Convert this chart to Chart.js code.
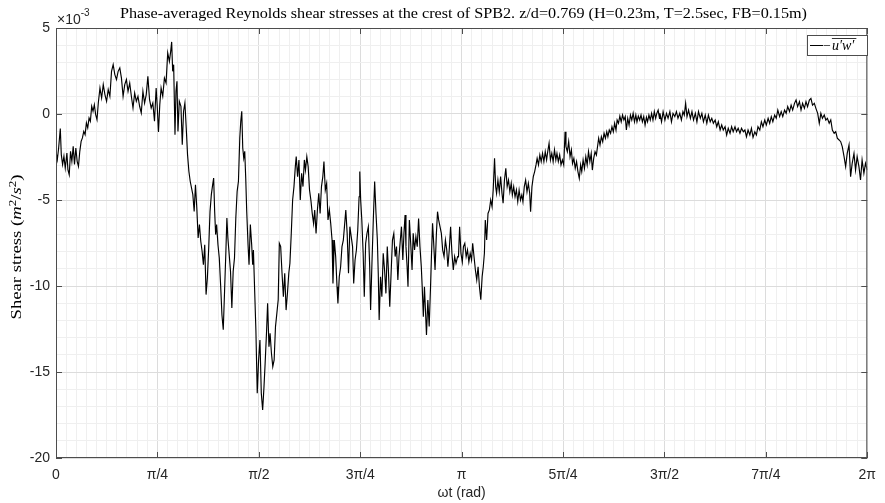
<!DOCTYPE html>
<html><head><meta charset="utf-8">
<script src="https://cdn.jsdelivr.net/npm/chart.js@4/dist/chart.umd.min.js"></script>
<style>html,body{margin:0;padding:0;background:#fff;}canvas{display:block;}</style>
</head><body>
<canvas id="c" width="885" height="503"></canvas>
<script>
// phase in degrees of the wave cycle (360 deg = 2*pi rad)
const phaseDeg = [
0,0.59,1.17,1.91,2.35,2.93,3.52,4.11,4.84,5.28,5.87,6.45,7.04,7.63,8.21,8.8,9.39,9.97,10.56,11.15,11.73,12.32,12.91,13.49,14.08,14.67,15.25,15.84,16.43,17.01,17.6,18.19,18.77,19.51,20.24,20.97,21.71,22.44,23.17,23.91,24.64,25.37,26.11,26.84,27.57,28.31,29.04,29.77,30.51,31.24,31.97,32.71,33.44,34.17,34.91,35.64,36.37,37.11,37.84,38.57,39.31,40.04,40.77,41.51,42.24,42.97,43.71,44.44,44.88,45.47,46.05,46.64,47.37,48.11,48.84,49.57,50.31,50.89,51.33,51.77,52.21,52.8,53.24,53.68,54.12,54.71,55.44,56.03,56.61,57.2,57.79,58.37,58.96,59.55,60.13,60.72,61.31,61.89,62.48,63.07,63.65,64.24,64.83,65.41,66,66.59,67.17,67.76,68.35,68.93,69.52,69.96,70.4,70.84,71.28,71.87,72.46,73.04,73.63,74.22,74.8,75.39,75.83,76.27,76.86,77.44,78.03,78.62,79.2,79.79,80.38,80.96,81.55,81.99,82.43,82.87,83.31,83.75,84.19,84.63,85.22,85.66,86.24,86.83,87.27,
87.6,88.1,88.7,89.3,89.9,90.5,91.1,91.7,92.3,92.8,93.4,93.9,94.5,95.0,95.6,96.2,96.8,97.4,98.0,98.6,99.1,99.7,100.3,100.9,101.5,102.1,102.7,103.3,103.8,104.4,105.0,105.6,106.2,106.6,107.2,107.8,108.4,109.0,109.6,110.2,110.7,111.3,111.9,112.5,113.1,113.7,114.3,114.8,115.4,116.0,116.6,117.2,117.8,118.4,118.9,119.5,120.1,120.7,121.3,121.9,122.5,122.9,123.5,124.1,124.7,125.1,125.7,126.3,126.9,127.5,128.0,128.6,129.2,129.8,130.4,131.0,131.6,132.1,132.7,133.3,133.9,134.5,134.8,135.2,135.7,136.3,136.8,137.4,138.0,138.6,139.2,139.6,140.2,140.8,141.4,142.0,142.6,143.0,143.4,144.0,144.6,145.2,145.8,146.4,147.0,147.5,148.1,148.7,149.3,149.9,150.5,151.1,151.7,152.2,152.8,153.3,153.9,154.4,154.9,155.3,155.8,156.2,156.8,157.4,158.0,158.5,159.1,159.7,160.3,160.9,161.5,162.1,162.5,163.0,163.5,164.0,164.4,165.0,165.6,166.2,166.6,167.1,167.6,168.2,168.8,169.3,169.8,170.4,171.0,171.6,172.2,172.8,173.4,173.9,174.5,175.1,175.7,176.3,176.9,177.5,178.2,
178.6,179.1,179.7,180.3,180.8,181.4,182.0,182.6,183.2,183.8,184.4,184.9,185.5,186.1,186.7,187.3,187.9,188.5,189.1,189.6,190.1,190.5,191.1,191.7,192.3,192.9,193.5,194.0,194.6,195.1,195.5,196.1,196.7,197.3,197.9,198.4,199.0,199.6,200.2,200.8,201.4,202.0,202.5,203.1,203.7,204.3,204.9,205.5,206.1,206.7,207.2,207.8,208.4,209.0,209.6,210.2,210.6,211.2,211.8,212.4,213.0,213.5,214.1,214.7,215.3,215.9,216.5,217.1,217.7,218.2,218.8,219.4,220.0,220.6,221.2,221.8,222.3,222.9,223.5,224.1,224.7,225.3,225.9,226.3,226.9,227.5,228.1,228.7,229.2,229.8,230.4,231.0,231.6,232.2,232.8,233.3,233.9,234.5,235.1,235.7,236.3,236.9,237.5,238.0,238.6,239.2,239.8,240.4,240.8,241.4,242.0,242.6,243.2,243.8,244.4,244.9,245.5,246.1,246.7,247.3,247.9,248.5,249.0,249.6,250.2,250.8,251.4,252.0,252.6,253.1,253.7,254.3,254.9,255.5,256.1,256.7,257.3,257.8,258.4,259.0,259.6,260.2,260.8,261.4,262.0,262.5,263.1,263.7,264.3,264.9,265.5,266.1,266.6,267.2,267.8,
268.0,268.7,269.4,270.2,270.9,271.6,272.4,273.1,273.8,274.6,275.3,276.0,276.8,277.5,278.2,278.8,279.4,280.0,280.7,281.5,282.2,282.9,283.7,284.4,285.1,285.9,286.6,287.3,288.1,288.8,289.5,290.3,291.0,291.7,292.5,293.2,293.9,294.7,295.4,296.1,296.9,297.6,298.3,299.1,299.8,300.5,301.3,302.0,302.7,303.5,304.2,305.0,305.7,306.4,307.1,307.9,308.6,309.3,310.1,310.8,311.5,312.3,313.0,313.7,314.5,315.2,316.0,316.7,317.4,318.1,318.9,319.6,320.3,321.1,321.8,322.5,323.3,324.0,324.7,325.5,326.2,326.9,327.7,328.4,329.1,329.9,330.6,331.3,332.1,332.8,333.5,334.3,335.0,335.7,336.5,337.2,338.0,338.7,339.4,340.1,340.9,341.6,342.3,343.1,343.8,344.5,345.3,346.0,346.7,347.5,348.2,348.9,349.7,350.4,351.1,351.9,352.6,353.3,354.1,354.8,355.5,356.3,357.0,357.7,358.5,359.2,360
];
// -u'w' in units of 1e-3 m^2/s^2
const stress = [
-2.17,-2.65,-1.98,-0.85,-2.36,-2.94,-2.46,-3.14,-2.27,-3.23,-3.53,-2.17,-2.75,-1.88,-2.94,-1.98,-2.75,-3.04,-2.17,-1.59,-1.39,-1.01,-1.2,-0.52,-0.81,-0.23,-0.42,0.45,0.16,0.54,-0.04,-0.33,0.64,1.51,0.93,1.71,1.13,0.74,1.42,1.03,2.48,2.87,2.29,2.0,2.48,2.68,2.09,1.03,1.71,2.0,1.32,1.8,1.03,0.35,1.22,0.74,1.03,0.45,0.06,1.32,0.64,1.13,2.19,0.83,0.35,0.64,-0.42,1.51,0.54,-1.05,0.54,1.51,1.03,2.09,1.8,3.55,3.06,3.64,4.19,2.48,2.87,-1.2,1.32,1.9,-1.01,0.74,0.45,-1.78,0.16,0.64,-0.81,-2.36,-3.33,-3.91,-4.3,-4.69,-5.66,-4.11,-5.46,-7.21,-6.43,-7.4,-7.98,-8.76,-7.6,-10.5,-9.53,-7.79,-5.66,-4.69,-4.11,-3.72,-5.66,-7.01,-6.43,-7.6,-8.37,-9.92,-11.67,-12.54,-10.31,-7.98,-6.05,-7.21,-8.18,-9.15,-11.28,-9.15,-8.37,-6.05,-4.5,-3.91,-1.39,-0.42,0.16,-1.98,-2.56,-2.17,-3.72,-5.66,-7.6,-8.76,-6.43,-7.6,-8.76,
-7.91,-10.04,-12.56,-16.24,-14.3,-13.14,-16.24,-17.21,-15.85,-14.5,-12.75,-11.01,-13.53,-12.75,-13.91,-14.69,-14.3,-12.36,-11.59,-10.81,-7.52,-7.71,-9.26,-10.62,-9.26,-11.4,-10.43,-9.26,-8.68,-6.94,-5.0,-4.22,-3.06,-2.48,-3.64,-2.67,-5.0,-3.45,-4.22,-2.67,-3.26,-2.48,-3.06,-4.42,-5.0,-5.78,-6.36,-5.58,-6.94,-5.58,-4.61,-5.78,-4.22,-3.64,-2.77,-4.42,-4.03,-6.16,-5.58,-6.36,-7.33,-9.85,-7.33,-8.29,-10.04,-11.01,-9.46,-8.88,-7.71,-7.33,-6.55,-5.58,-6.94,-9.26,-6.55,-7.13,-7.71,-9.85,-8.49,-7.91,-6.74,-4.81,-3.35,-5.0,-6.16,-8.1,-10.62,-7.52,-6.94,-6.55,-8.88,-11.4,-8.68,-6.16,-3.93,-5.78,-7.33,-9.26,-11.98,-9.46,-10.62,-8.1,-9.07,-10.43,-7.71,-9.07,-11.2,-9.26,-7.33,-6.94,-8.29,-7.71,-9.65,-8.29,-7.33,-6.55,-8.49,-6.94,-5.87,-7.71,-8.88,-10.04,-6.16,-7.52,-9.07,-6.94,-7.91,-7.13,-7.71,-6.07,-7.71,-8.88,-10.04,-11.78,-10.04,-11.59,-12.85,-10.81,-12.36,-10.04,-8.29,-6.36,-7.52,-9.07,-6.94,-5.68,-6.16,-6.55,-6.94,-7.91,-8.29,-7.33,-7.91,-8.88,-7.91,-6.55,-8.1,-9.07,-8.29,-8.68,-8.29,
-8.3,-6.55,-8.1,-8.6,-7.71,-7.52,-8.3,-7.91,-8.6,-8.1,-8.49,-7.52,-8.3,-9.07,-9.65,-8.88,-10.04,-10.8,-9.46,-8.88,-8.1,-6.16,-7.33,-5.78,-5.58,-5.0,-5.39,-4.42,-2.58,-4.22,-4.61,-3.84,-4.52,-3.64,-4.61,-5.19,-3.84,-3.16,-4.22,-3.84,-4.52,-4.03,-4.71,-4.22,-4.81,-4.42,-5.1,-4.42,-5.0,-4.71,-5.1,-4.22,-3.84,-4.52,-4.03,-4.61,-5.68,-4.22,-3.64,-3.35,-2.96,-2.58,-2.96,-2.38,-2.77,-2.29,-2.77,-2.19,-2.67,-2.19,-1.7,-2.67,-2.29,-2.77,-2.09,-2.67,-2.29,-2.77,-2.38,-2.96,-2.67,-2.96,-1.03,-1.9,-2.19,-1.61,-2.48,-2.09,-2.87,-2.58,-3.16,-2.77,-3.35,-3.74,-2.96,-3.35,-2.67,-3.16,-2.48,-2.96,-2.19,-2.77,-2.29,-3.26,-2.58,-2.19,-2.38,-1.8,-1.41,-1.8,-1.32,-1.61,-1.12,-1.41,-1.03,-1.32,-0.93,-1.12,-0.74,-1.03,-0.54,-0.93,-0.35,-0.54,-0.12,-0.45,-0.06,-0.35,-0.15,-0.93,-0.25,-0.64,-0.06,-0.35,0.04,-0.45,-0.06,-0.45,-0.12,-0.35,-0.06,-0.45,-0.15,-0.64,-0.19,-0.45,-0.06,-0.35,0.04,-0.35,0.14,-0.25,0.04,0.23,-0.25,
0.04,-0.45,0.14,-0.35,0.04,-0.25,0.14,-0.45,0.04,-0.15,0.14,-0.25,0.04,-0.35,0.14,-0.06,0.62,-0.15,0.23,-0.25,0.14,-0.35,0.04,-0.45,0.14,-0.25,0.04,-0.45,-0.06,-0.54,-0.06,-0.45,-0.25,-0.54,-0.35,-0.74,-0.45,-0.93,-0.64,-0.93,-0.74,-1.22,-0.83,-1.12,-0.74,-1.03,-0.74,-1.03,-0.83,-1.12,-0.83,-1.03,-0.93,-1.32,-0.93,-1.22,-0.83,-1.36,-1.03,-1.22,-0.74,-0.93,-0.45,-0.74,-0.35,-0.64,-0.25,-0.54,-0.15,-0.45,-0.06,-0.25,0.23,-0.15,0.14,-0.15,0.23,0.04,0.43,0.14,0.52,0.23,0.62,0.81,0.43,0.72,0.23,0.62,0.33,0.72,0.43,0.81,0.91,0.52,0.62,0.33,0.04,-0.54,0.04,-0.25,-0.06,-0.35,-0.25,-0.54,-0.35,-0.93,-1.12,-1.03,-1.41,-1.51,-1.61,-1.9,-2.48,-3.06,-2.29,-1.8,-3.64,-2.87,-2.29,-3.26,-2.48,-3.06,-3.84,-2.67,-3.45,-2.87,-3.26
];
const xTickValues = [0,45,90,135,180,225,270,315,360];
const xTickLabels = ['0','\u03c0/4','\u03c0/2','3\u03c0/4','\u03c0','5\u03c0/4','3\u03c0/2','7\u03c0/4','2\u03c0'];
const yTickValues = [-20,-15,-10,-5,0,5];
const yTickLabels = ['-20','-15','-10','-5','0','5'];
const titleText = 'Phase-averaged Reynolds shear stresses at the crest of SPB2. z/d=0.769 (H=0.23m, T=2.5sec, FB=0.15m)';
const xTitle = '\u03c9t (rad)';

if (phaseDeg.length !== stress.length) console.warn('length mismatch', phaseDeg.length, stress.length);
const n = Math.min(phaseDeg.length, stress.length);
const pts = [];
for (let i = 0; i < n; i++) pts.push({x: phaseDeg[i], y: stress[i]});

const SANS = '"Liberation Sans", Arial, sans-serif';
const SERIF = '"Liberation Serif", "DejaVu Serif", serif';
const isMajor = (v, step) => Math.abs(v / step - Math.round(v / step)) < 1e-6;

const deco = {
  id: 'deco',
  afterDraw(chart) {
    const {ctx, chartArea: a, scales: {x, y}} = chart;
    ctx.save();
    // axes box
    ctx.strokeStyle = '#4d4d4d';
    ctx.lineWidth = 1;
    ctx.strokeRect(a.left + 0.5, a.top + 0.5, a.right - a.left - 1, a.bottom - a.top - 1);
    // inner major ticks
    ctx.beginPath();
    xTickValues.forEach(v => {
      const px = Math.round(x.getPixelForValue(v)) + 0.5;
      ctx.moveTo(px, a.bottom); ctx.lineTo(px, a.bottom - 6);
      ctx.moveTo(px, a.top); ctx.lineTo(px, a.top + 6);
    });
    yTickValues.forEach(v => {
      const py = Math.round(y.getPixelForValue(v)) + 0.5;
      ctx.moveTo(a.left, py); ctx.lineTo(a.left + 6, py);
      ctx.moveTo(a.right, py); ctx.lineTo(a.right - 6, py);
    });
    ctx.stroke();
    // title: LaTeX-like serif, horizontally stretched to the reference width
    ctx.fillStyle = '#000';
    ctx.font = '14px ' + SERIF;
    ctx.textAlign = 'center';
    ctx.textBaseline = 'alphabetic';
    const tw = ctx.measureText(titleText).width;
    ctx.save();
    ctx.translate(463.5, 18);
    ctx.scale(687 / tw, 1);
    ctx.fillText(titleText, 0, 0);
    ctx.restore();
    // exponent
    ctx.fillStyle = '#262626';
    ctx.textAlign = 'left';
    ctx.font = '14px ' + SANS;
    ctx.fillText('\u00d710', a.left + 1, 24);
    const w10 = ctx.measureText('\u00d710').width;
    ctx.font = '10px ' + SANS;
    ctx.fillText('-3', a.left + 1 + w10, 16);
    // x title
    ctx.font = '14px ' + SANS;
    ctx.textAlign = 'center';
    ctx.fillText(xTitle, (a.left + a.right) / 2, 497);
    // y title (rotated, rich text)
    const ys = 14;
    const parts = [
      {t: 'Shear stress (', it: false, sup: false},
      {t: 'm', it: true, sup: false},
      {t: '2', it: false, sup: true},
      {t: '/', it: false, sup: false},
      {t: 's', it: true, sup: false},
      {t: '2', it: false, sup: true},
      {t: ')', it: false, sup: false}
    ];
    const fontFor = p => (p.it ? 'italic ' : '') + (p.sup ? ys * 0.7 : ys).toFixed(2) + 'px ' + SERIF;
    let total = 0;
    parts.forEach(p => { ctx.font = fontFor(p); p.w = ctx.measureText(p.t).width; total += p.w; });
    ctx.save();
    ctx.translate(21, 247);
    ctx.rotate(-Math.PI / 2);
    ctx.scale(145 / total, 1);
    ctx.fillStyle = '#000';
    ctx.textAlign = 'left';
    let cx = -total / 2;
    parts.forEach(p => { ctx.font = fontFor(p); ctx.fillText(p.t, cx, p.sup ? -ys * 0.38 : 0); cx += p.w; });
    ctx.restore();
    // legend
    const lx = 807, ly = 35, lw = 61, lh = 21;
    ctx.fillStyle = '#fff';
    ctx.fillRect(lx, ly, lw, lh);
    ctx.strokeStyle = '#4d4d4d';
    ctx.lineWidth = 1;
    ctx.strokeRect(lx + 0.5, ly + 0.5, lw - 1, lh - 1);
    ctx.strokeStyle = '#000';
    ctx.beginPath();
    ctx.moveTo(810, 45.5); ctx.lineTo(823, 45.5);
    ctx.stroke();
    ctx.fillStyle = '#000';
    ctx.textAlign = 'left';
    ctx.font = '14px ' + SERIF;
    ctx.fillText('\u2212', 823, 50);
    const wm = ctx.measureText('\u2212').width;
    ctx.font = 'italic 14px ' + SERIF;
    const uw = 'u\u2032w\u2032';
    const wu = ctx.measureText(uw).width;
    ctx.fillText(uw, 824 + wm, 50);
    ctx.lineWidth = 0.8;
    ctx.beginPath();
    ctx.moveTo(824 + wm, 38.5); ctx.lineTo(826 + wm + wu, 38.5);
    ctx.stroke();
    ctx.restore();
  }
};

new Chart(document.getElementById('c'), {
  type: 'scatter',
  data: {
    datasets: [{
      label: "-u'w'",
      data: pts,
      showLine: true,
      borderColor: '#000',
      borderWidth: 1.15,
      pointRadius: 0,
      tension: 0,
      fill: false
    }]
  },
  options: {
    responsive: false,
    animation: false,
    devicePixelRatio: 1,
    layout: {padding: {top: 28, right: 11, left: 0, bottom: 0}},
    plugins: {legend: {display: false}, tooltip: {enabled: false}, title: {display: false}},
    scales: {
      x: {
        type: 'linear', min: 0, max: 360,
        afterFit(s) { s.height = 45; },
        border: {display: false},
        grid: {
          drawTicks: false,
          lineWidth: 1,
          color: c => (c.tick && isMajor(c.tick.value, 45)) ? '#dcdcdc' : '#efefef'
        },
        ticks: {
          stepSize: 4.5, autoSkip: false, maxRotation: 0, padding: 9,
          color: '#262626', font: {family: SANS, size: 14},
          callback: v => { const i = xTickValues.findIndex(t => Math.abs(t - v) < 1e-6); return i >= 0 ? xTickLabels[i] : ''; }
        }
      },
      y: {
        type: 'linear', min: -20, max: 5,
        afterFit(s) { s.width = 56; },
        border: {display: false},
        grid: {
          drawTicks: false,
          lineWidth: 1,
          color: c => (c.tick && isMajor(c.tick.value, 5)) ? '#dcdcdc' : '#efefef'
        },
        ticks: {
          stepSize: 1, autoSkip: false, padding: 6,
          color: '#262626', font: {family: SANS, size: 14},
          callback: v => { const i = yTickValues.findIndex(t => Math.abs(t - v) < 1e-6); return i >= 0 ? yTickLabels[i] : ''; }
        }
      }
    }
  },
  plugins: [deco]
});
</script>
</body></html>
